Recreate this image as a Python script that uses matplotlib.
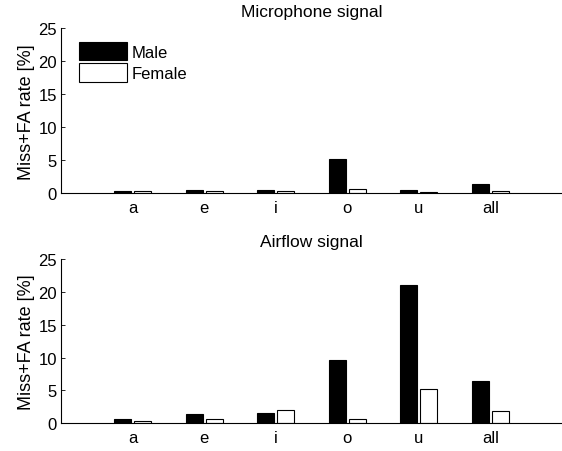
import numpy as np
import matplotlib
matplotlib.use("Agg")
import matplotlib.pyplot as plt

plt.rcParams['font.family'] = ['Liberation Sans', 'DejaVu Sans']

categories = ['a', 'e', 'i', 'o', 'u', 'all']
mic_male = [0.4, 0.55, 0.55, 5.2, 0.55, 1.4]
mic_female = [0.35, 0.35, 0.35, 0.6, 0.2, 0.4]
air_male = [0.65, 1.35, 1.55, 9.6, 21.0, 6.5]
air_female = [0.3, 0.65, 2.0, 0.7, 5.2, 1.9]

fig = plt.figure(figsize=(5.62, 4.52), dpi=100)
ax1 = fig.add_axes([0.1086, 0.5701, 0.8914, 0.3651])
ax2 = fig.add_axes([0.1086, 0.0613, 0.8914, 0.3635])

x = np.arange(1, len(categories) + 1)
w = 0.24
off = 0.14

def draw(ax, male, female, title):
    ax.bar(x - off, male, w, color='black', edgecolor='black', linewidth=0.8, label='Male')
    ax.bar(x + off, female, w, color='white', edgecolor='black', linewidth=0.8, label='Female')
    ax.set_xlim(0, 7)
    ax.set_ylim(0, 25)
    ax.set_yticks([0, 5, 10, 15, 20, 25])
    ax.set_xticks(x)
    ax.set_xticklabels(categories)
    ax.spines['top'].set_visible(False)
    ax.spines['right'].set_visible(False)
    for s in ('left', 'bottom'):
        ax.spines[s].set_linewidth(0.8)
    ax.tick_params(axis='y', direction='in', length=3, width=0.6, labelsize=12, pad=3)
    ax.tick_params(axis='x', length=0, labelsize=12, pad=5)
    ax.set_ylabel('Miss+FA rate [%]', fontsize=13, labelpad=2)
    ax.set_title(title, fontsize=12.5, pad=9)

draw(ax1, mic_male, mic_female, 'Microphone signal')
draw(ax2, air_male, air_female, 'Airflow signal')

ax1.legend(loc='upper left', bbox_to_anchor=(0.012, 0.99), frameon=False, fontsize=12,
           handlelength=2.9, handleheight=1.35, handletextpad=0.25, labelspacing=0.15,
           borderaxespad=0.3)

fig.savefig('out.png', dpi=100)
